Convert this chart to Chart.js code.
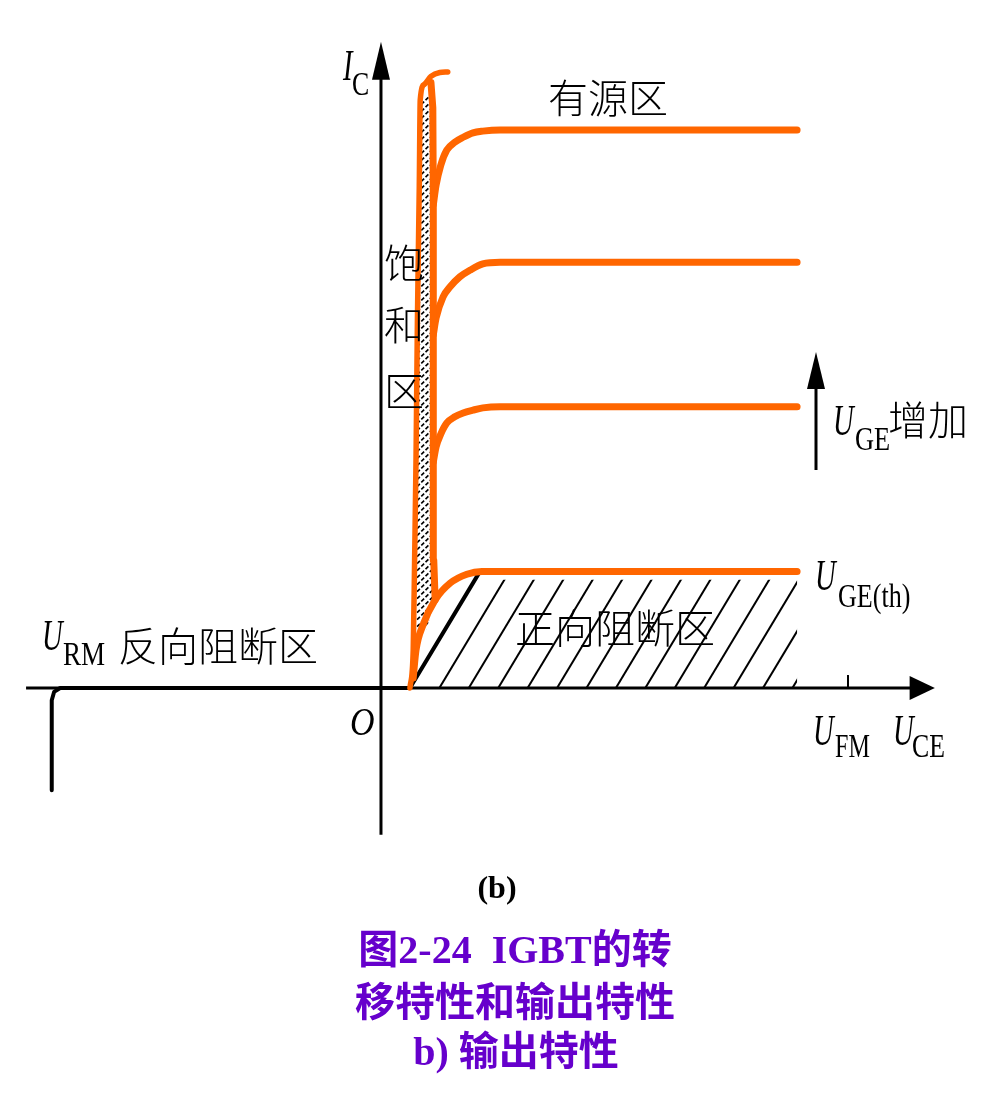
<!DOCTYPE html>
<html>
<head>
<meta charset="utf-8">
<script src="https://cdn.jsdelivr.net/npm/chart.js@4.4.1/dist/chart.umd.min.js"></script>
<style>
  html, body { margin: 0; padding: 0; background: #fff; }
  canvas { display: block; }
</style>
</head>
<body>
<canvas id="igbt" width="1000" height="1113"></canvas>
<script>
// IGBT OUTPUT CHARACTERISTIC
// Uce in units where U_FM = 10, Ic in units where the top curve = 10
let satLeftX = [0.62, 0.69, 0.72, 0.75, 0.78, 0.82, 0.84, 0.93, 1.07, 1.26, 1.43];
let satLeftY = [0, 0.68, 2.29, 4.09, 6.59, 9.0, 10.54, 10.82, 10.96, 11.03, 11.04];

let satRightX = [1.16, 1.13, 1.12, 1.12, 1.11, 1.07];
let satRightY = [1.58, 2.29, 5.16, 8.75, 10.40, 10.85];

let curve1X = [1.12, 1.18, 1.28, 1.41, 1.58, 1.76, 1.97, 2.18, 2.55, 8.91];
let curve1Y = [8.66, 9.01, 9.37, 9.64, 9.78, 9.87, 9.95, 9.98, 10.0, 10.0];

let curve2X = [1.12, 1.18, 1.33, 1.48, 1.69, 1.91, 2.18, 2.55, 8.91];
let curve2Y = [6.33, 6.63, 7.01, 7.19, 7.37, 7.49, 7.60, 7.63, 7.63];

let curve3X = [1.12, 1.18, 1.28, 1.41, 1.58, 1.76, 1.97, 2.18, 2.55, 8.91];
let curve3Y = [4.05, 4.32, 4.55, 4.75, 4.86, 4.93, 4.98, 5.02, 5.04, 5.04];

let curveThX = [0.69, 0.75, 0.90, 1.16, 1.48, 1.84, 2.16, 8.91];
let curveThY = [0.18, 0.68, 1.13, 1.58, 1.88, 2.04, 2.09, 2.09];

// reverse blocking + forward conduction start (black)
let blockX = [-7.05, -7.05, -7.00, -6.87, 0.62, 2.12];
let blockY = [-1.83, -0.22, -0.07, 0, 0, 2.09];

let ufm = 10;
let hatchStep = 0.63;

function pts(xs, ys) {
    return xs.map((x, i) => ({ x: x, y: ys[i] }));
}

const ORANGE = '#ff6600';

function drawText(ctx, s, x, y, font, sx) {
    ctx.save();
    ctx.translate(x, y);
    ctx.scale(sx || 1, 1);
    ctx.font = font;
    ctx.fillText(s, 0, 0);
    ctx.restore();
}

let decor = {
    id: 'decor',
    beforeDatasetsDraw(chart) {
        let ctx = chart.ctx;
        let xs = chart.scales.x, ys = chart.scales.y;
        let px = u => xs.getPixelForValue(u);
        let py = v => ys.getPixelForValue(v);
        let ox = px(0), oy = py(0);

        ctx.save();
        ctx.strokeStyle = '#000';
        ctx.fillStyle = '#000';
        ctx.lineWidth = 3;

        // x axis
        ctx.beginPath();
        ctx.moveTo(px(-7.6), oy);
        ctx.lineTo(px(11.4), oy);
        ctx.stroke();
        ctx.beginPath();
        ctx.moveTo(px(11.86), oy);
        ctx.lineTo(px(11.32), oy - 12);
        ctx.lineTo(px(11.32), oy + 12);
        ctx.closePath();
        ctx.fill();

        // y axis
        ctx.beginPath();
        ctx.moveTo(ox, py(-2.63));
        ctx.lineTo(ox, py(11.0));
        ctx.stroke();
        ctx.beginPath();
        ctx.moveTo(ox, py(11.58));
        ctx.lineTo(ox - 9, py(10.9));
        ctx.lineTo(ox + 9, py(10.9));
        ctx.closePath();
        ctx.fill();

        // U_FM tick
        ctx.lineWidth = 2;
        ctx.beginPath();
        ctx.moveTo(px(ufm), oy);
        ctx.lineTo(px(ufm), oy - 13);
        ctx.stroke();

        // forward blocking hatch
        let x0 = blockX[4], x1 = blockX[5], vTop = blockY[5];
        let slope = (x1 - x0) / vTop;
        let xEnd = curveThX[curveThX.length - 1];
        let hatchTop = 1.94;
        ctx.save();
        ctx.beginPath();
        ctx.moveTo(px(x0), oy);
        ctx.lineTo(px(x0 + slope * hatchTop), py(hatchTop));
        ctx.lineTo(px(xEnd), py(hatchTop));
        ctx.lineTo(px(xEnd), oy);
        ctx.closePath();
        ctx.clip();
        ctx.lineWidth = 2;
        for (let k = 1; k < 20; k++) {
            let b = x0 + k * hatchStep;
            ctx.beginPath();
            ctx.moveTo(px(b), oy);
            ctx.lineTo(px(b + slope * vTop), py(vTop));
            ctx.stroke();
        }
        ctx.restore();

        // saturation strip hatch
        ctx.save();
        ctx.beginPath();
        satLeftX.forEach((x, i) => {
            if (i === 0) ctx.moveTo(px(x), py(satLeftY[i]));
            else ctx.lineTo(px(x), py(satLeftY[i]));
        });
        for (let i = satRightX.length - 1; i >= 0; i--) {
            ctx.lineTo(px(satRightX[i]), py(satRightY[i]));
        }
        ctx.closePath();
        ctx.clip();
        ctx.beginPath();
        ctx.rect(px(0.5), py(10.6), px(1.4) - px(0.5), py(1.04) - py(10.6));
        ctx.clip();
        ctx.lineWidth = 1.6;
        ctx.strokeStyle = '#000';
        ctx.setLineDash([4, 2]);
        for (let yy = py(10.8); yy < py(0.8) + 30; yy += 7) {
            ctx.beginPath();
            ctx.moveTo(px(0.5), yy + 36);
            ctx.lineTo(px(0.5) + 60, yy - 24);
            ctx.stroke();
        }
        ctx.restore();

        ctx.restore();
    },
    afterDraw(chart) {
        let ctx = chart.ctx;
        ctx.save();
        ctx.fillStyle = '#000';
        ctx.textBaseline = 'alphabetic';
        ctx.textAlign = 'left';

        let cjk = '300 40px "Noto Sans CJK SC"';
        let uFont = 'italic 44px "Liberation Serif"';
        let subFont = '33px "Liberation Serif"';

        ctx.textBaseline = 'middle';
        drawText(ctx, '有源区', 548, 98, cjk);
        drawText(ctx, '正向阻断区', 515, 628, cjk);
        drawText(ctx, '反向阻断区', 118, 646, cjk);
        drawText(ctx, '增加', 888, 420, cjk);
        ctx.textAlign = 'center';
        drawText(ctx, '饱', 404, 263, cjk);
        drawText(ctx, '和', 404, 325, cjk);
        drawText(ctx, '区', 404, 391, cjk);

        ctx.textAlign = 'left';
        ctx.textBaseline = 'alphabetic';
        // I_C
        drawText(ctx, 'I', 343, 80, uFont, 0.65);
        drawText(ctx, 'C', 352, 95, subFont, 0.78);
        // O
        drawText(ctx, 'O', 350, 735, 'italic 40px "Liberation Serif"', 0.85);
        // U_RM
        drawText(ctx, 'U', 42, 650, uFont, 0.65);
        drawText(ctx, 'RM', 63, 665, subFont, 0.82);
        // U_GE
        drawText(ctx, 'U', 833, 435, uFont, 0.65);
        drawText(ctx, 'GE', 855, 450, subFont, 0.8);
        // U_GE(th)
        drawText(ctx, 'U', 815, 590, uFont, 0.65);
        drawText(ctx, 'GE(th)', 838, 607, subFont, 0.79);
        // U_FM, U_CE
        drawText(ctx, 'U', 813, 745, uFont, 0.65);
        drawText(ctx, 'FM', 835, 757, subFont, 0.73);
        drawText(ctx, 'U', 893, 745, uFont, 0.65);
        drawText(ctx, 'CE', 912, 757, subFont, 0.78);

        // U_GE increase arrow
        ctx.strokeStyle = '#000';
        ctx.lineWidth = 3;
        ctx.beginPath();
        ctx.moveTo(816, 470);
        ctx.lineTo(816, 385);
        ctx.stroke();
        ctx.beginPath();
        ctx.moveTo(816, 352);
        ctx.lineTo(807, 389);
        ctx.lineTo(825, 389);
        ctx.closePath();
        ctx.fill();

        // captions
        ctx.textAlign = 'center';
        ctx.textBaseline = 'middle';
        ctx.font = 'bold 32px "Liberation Serif"';
        ctx.fillText('(b)', 497, 890);
        ctx.fillStyle = '#6600cc';
        ctx.font = 'bold 40px "Liberation Serif", "Noto Sans CJK SC"';
        ctx.fillText('图2-24  IGBT的转', 515, 953);
        ctx.fillText('移特性和输出特性', 515, 1006);
        ctx.fillText('b) 输出特性', 516, 1055);
        ctx.restore();
    }
};

let orangeLine = {
    borderColor: ORANGE,
    borderWidth: 7,
    borderCapStyle: 'round',
    borderJoinStyle: 'round',
    pointRadius: 0,
    showLine: true,
    fill: false,
    cubicInterpolationMode: 'monotone'
};

let igbtChart = new Chart(document.querySelector('#igbt').getContext('2d'), {
    type: 'scatter',
    data: {
        datasets: [
            Object.assign({}, orangeLine, { label: 'sat left', data: pts(satLeftX, satLeftY), borderWidth: 5.5 }),
            Object.assign({}, orangeLine, { label: 'sat right', data: pts(satRightX, satRightY), cubicInterpolationMode: 'default', tension: 0 }),
            Object.assign({}, orangeLine, { label: 'curve 1', data: pts(curve1X, curve1Y) }),
            Object.assign({}, orangeLine, { label: 'curve 2', data: pts(curve2X, curve2Y) }),
            Object.assign({}, orangeLine, { label: 'curve 3', data: pts(curve3X, curve3Y) }),
            Object.assign({}, orangeLine, { label: 'UGE(th)', data: pts(curveThX, curveThY) }),
            {
                label: 'blocking',
                data: pts(blockX, blockY),
                borderColor: '#000',
                borderWidth: 4,
                borderCapStyle: 'round',
                borderJoinStyle: 'round',
                pointRadius: 0,
                showLine: true,
                tension: 0
            }
        ]
    },
    options: {
        responsive: false,
        animation: false,
        layout: { padding: 0 },
        plugins: {
            legend: { display: false },
            tooltip: { enabled: false }
        },
        scales: {
            x: { type: 'linear', min: -8.158, max: 13.255, display: false },
            y: { type: 'linear', min: -7.616, max: 12.330, display: false }
        }
    },
    plugins: [decor]
});
</script>
</body>
</html>
